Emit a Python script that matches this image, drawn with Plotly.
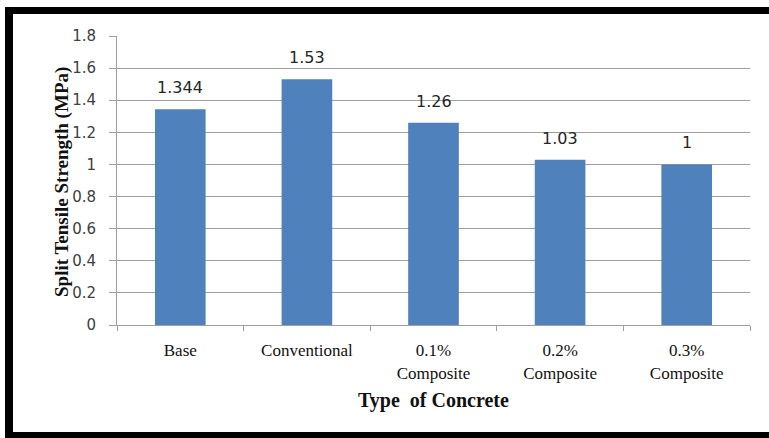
import plotly.graph_objects as go

categories = ["Base", "Conventional", "0.1%<br>Composite", "0.2%<br>Composite", "0.3%<br>Composite"]
values = [1.344, 1.53, 1.26, 1.03, 1.0]
value_labels = ["1.344", "1.53", "1.26", "1.03", "1"]
y_ticks = [0, 0.2, 0.4, 0.6, 0.8, 1, 1.2, 1.4, 1.6, 1.8]

W, H = 769, 438
L, R, T, B = 117, 19, 36, 113
PW, PH = W - L - R, H - T - B

def px(x):
    return (x - L) / PW

def py(y):
    return (H - B - y) / PH

BAR = "#4f81bd"
GRID = "#a0a0a0"

fig = go.Figure()
fig.add_trace(go.Bar(x=categories, y=values, marker=dict(color=BAR, line=dict(width=0)),
                     width=0.4, hoverinfo="skip"))

annotations = []
for c, v, t in zip(categories, values, value_labels):
    annotations.append(dict(x=c, y=v, xref="x", yref="y", text=t, showarrow=False,
                            yanchor="bottom", yshift=10,
                            font=dict(family="DejaVu Sans", size=16, color="#262626")))

annotations.append(dict(x=px(433), y=py(400), xref="paper", yref="paper",
                        text="<b>Type  of Concrete</b>", showarrow=False,
                        xanchor="center", yanchor="middle",
                        font=dict(family="Liberation Serif", size=20, color="#111111")))
annotations.append(dict(x=px(62), y=py(182), xref="paper", yref="paper",
                        text="<b>Split Tensile Strength (MPa)</b>", showarrow=False,
                        textangle=-90, xanchor="center", yanchor="middle",
                        font=dict(family="Liberation Serif", size=19, color="#111111")))

shapes = [
    dict(type="rect", xref="paper", yref="paper", x0=px(5), x1=px(13), y0=py(438), y1=py(7),
         fillcolor="black", line=dict(width=0), layer="above"),
    dict(type="rect", xref="paper", yref="paper", x0=px(5), x1=px(769), y0=py(14), y1=py(7),
         fillcolor="black", line=dict(width=0), layer="above"),
    dict(type="rect", xref="paper", yref="paper", x0=px(5), x1=px(769), y0=py(438), y1=py(432),
         fillcolor="black", line=dict(width=0), layer="above"),
]

fig.update_layout(
    width=W, height=H,
    margin=dict(l=L, r=R, t=T, b=B, autoexpand=False),
    paper_bgcolor="white", plot_bgcolor="white",
    showlegend=False,
    bargap=0.6,
    annotations=annotations,
    shapes=shapes,
    xaxis=dict(type="category", tickson="boundaries", ticks="outside", ticklen=5,
               tickcolor=GRID, tickwidth=1, showline=True, linecolor=GRID, linewidth=1,
               showgrid=False, ticklabelstandoff=10,
               tickfont=dict(family="Liberation Serif", size=17, color="#111111"),
               automargin=False),
    yaxis=dict(range=[0, 1.8], tickvals=y_ticks, ticktext=[f"{v:g}" for v in y_ticks],
               ticks="outside", ticklen=7, tickcolor=GRID, tickwidth=1,
               showline=True, linecolor=GRID, linewidth=1, ticklabelstandoff=10,
               showgrid=True, gridcolor=GRID, gridwidth=1, zeroline=False,
               tickfont=dict(family="DejaVu Sans", size=15, color="#404040"),
               automargin=False),
)

fig.write_html("out.html")
